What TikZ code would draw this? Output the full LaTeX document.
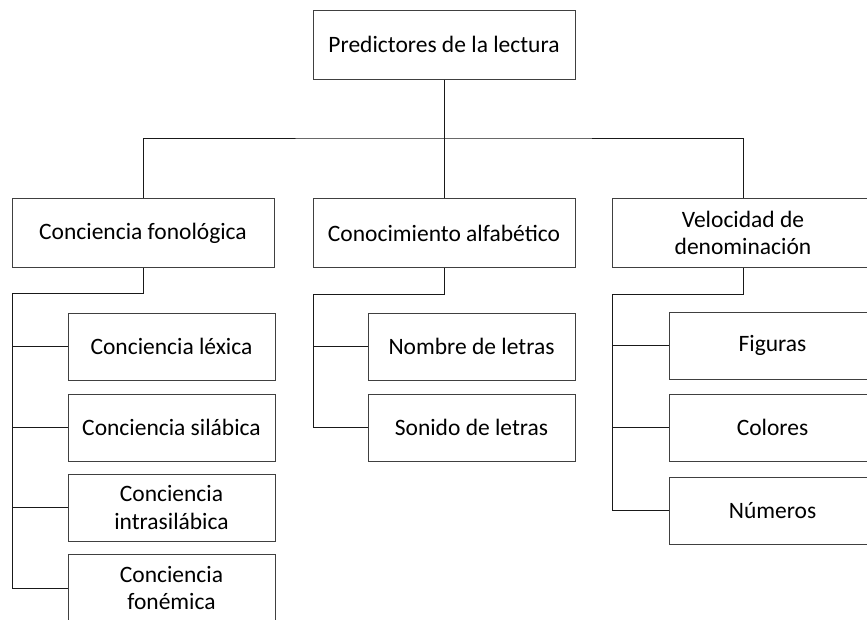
\documentclass[tikz,border=0pt]{standalone}
\usepackage{fontspec}
\setmainfont{Carlito}
\usepackage{tikz}

\begin{document}
\begin{tikzpicture}[x=1pt,y=-1pt,
   font=\fontsize{23.5}{27.5}\selectfont,
   bigbox/.style={draw=black!75,line width=1pt,shape=rectangle,inner sep=0pt,
     minimum width=262pt,minimum height=69pt,align=center},
   subbox/.style={draw=black!75,line width=1pt,shape=rectangle,inner sep=0pt,
     minimum width=207pt,minimum height=67pt,align=center},
   link/.style={draw=black!90,line width=0.9pt}]
   \clip (0,0) rectangle (867,619);
   \fill[white] (0,0) rectangle (867,619);
   % top
   \path (444,44.5) node[bigbox] (root) {Predictores de la lectura};
   % second row
   \path (143,233) node[bigbox] (fono) {Conciencia fonológica};
   \path (444,233) node[bigbox] (alfa) {Conocimiento alfabético};
   \path (743,233) node[bigbox] (velo) {Velocidad de\\denominación};
   % left column
   \path (171.5,346.5) node[subbox] (lexica) {Conciencia léxica};
   \path (171.5,427.5) node[subbox] (silabica) {Conciencia silábica};
   \path (171.5,507.5) node[subbox] (intra) {Conciencia\\intrasilábica};
   \path (171.5,588) node[subbox] (fonem) {Conciencia\\fonémica};
   % middle column
   \path (471.5,346.5) node[subbox] (nombre) {Nombre de letras};
   \path (471.5,427.5) node[subbox] (sonido) {Sonido de letras};
   % right column
   \path (772.5,345.5) node[subbox] (figuras) {Figuras};
   \path (772.5,427.5) node[subbox] (colores) {Colores};
   \path (772.5,510.5) node[subbox] (numeros) {Números};
   % connectors
   \coordinate (bus) at (444,138);
   \coordinate (fonoT) at (12,293);
   \coordinate (alfaT) at (313,294);
   \coordinate (veloT) at (612,294);
   \draw[link] (root.south) -- (alfa.north);
   \draw[link] (fono.north) |- (bus) -| (velo.north);
   \draw[link] (fono.south) |- (fonoT) |- (fonem.west);
   \draw[link] (alfa.south) |- (alfaT) |- (sonido.west);
   \draw[link] (velo.south) |- (veloT) |- (numeros.west);
   \foreach \n in {lexica,silabica,intra}
     \draw[link] (fonoT) |- (\n.west);
   \draw[link] (alfaT) |- (nombre.west);
   \foreach \n in {figuras,colores}
     \draw[link] (veloT) |- (\n.west);
\end{tikzpicture}
\end{document}
